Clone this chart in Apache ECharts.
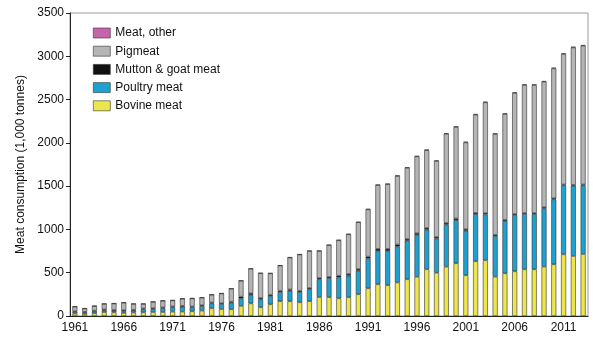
<!DOCTYPE html>
<html><head><meta charset="utf-8">
<script src="https://cdn.jsdelivr.net/npm/echarts@6/dist/echarts.min.js"></script>
<style>html,body{margin:0;padding:0;background:#fff}#c{width:593px;height:342px}</style>
</head><body><div id="c"></div>
<script>
const years = [];
for (let y = 1961; y <= 2013; y++) years.push(String(y));
const yTicks = [0, 500, 1000, 1500, 2000, 2500, 3000, 3500];

const bovine = [28,23,31,45,42,35,39,42,46,46,50,50,54,62,89,80,77,117,146,100,135,170,170,158,170,219,218,204,216,251,320,366,355,387,424,454,539,500,570,609,470,632,643,454,493,516,539,539,570,597,712,693,716];
const poultry = [18,20,23,19,16,23,23,35,35,43,50,58,46,53,57,59,77,87,97,93,96,107,122,119,138,205,219,243,250,272,346,385,396,417,446,482,458,395,487,498,515,544,531,470,604,651,639,639,674,751,797,812,793];
const mutton = [8,6,8,12,12,10,10,10,10,10,10,10,10,10,10,10,12,20,20,15,15,15,15,15,15,15,15,18,20,20,20,25,25,22,20,20,20,18,18,20,18,15,15,15,15,12,12,12,12,12,10,10,10];
const pigmeat = [54,37,53,64,74,86,68,53,73,77,70,82,93,87,90,111,150,183,283,286,246,290,368,418,428,312,367,410,458,540,545,736,747,792,822,887,899,878,1030,1057,1002,1134,1278,1163,1221,1397,1478,1478,1450,1500,1507,1587,1603];
const other = [2,2,2,2,2,2,2,2,2,2,2,2,2,2,2,2,2,3,3,3,3,3,3,3,3,3,3,3,3,3,5,5,5,5,5,5,5,5,5,5,8,8,8,8,8,8,8,8,8,8,8,8,8];

const font = '"Liberation Sans", Arial, sans-serif';
const border = {borderColor:'#333', borderWidth:0.6};
function s(name, data, color){
  return {name, type:'bar', stack:'t', data, barWidth:5,
    itemStyle:Object.assign({color}, border)};
}
const chart = echarts.init(document.getElementById('c'), null, {renderer:'canvas'});
chart.setOption({
  animation:false,
  grid:{left:70, right:5, top:13, bottom:26, show:true, borderColor:'#999', borderWidth:1},
  legend:{
    orient:'vertical', left:88, top:22, itemWidth:17, itemHeight:10, itemGap:6.2, icon:'rect',
    textStyle:{fontFamily:font, fontSize:12, color:'#111'},
    data:['Meat, other','Pigmeat','Mutton & goat meat','Poultry meat','Bovine meat'],
    itemStyle:{borderColor:'#333', borderWidth:0.6}
  },
  xAxis:{type:'category', data:years,
    axisLine:{lineStyle:{color:'#222', width:1}},
    axisTick:{interval:0, length:4, lineStyle:{color:'#222'}},
    axisLabel:{interval:4, fontFamily:font, fontSize:12, color:'#111', margin:6}
  },
  yAxis:{type:'value', min:0, max:yTicks[yTicks.length-1], interval:500,
    name:'Meat consumption (1,000 tonnes)', nameLocation:'middle', nameGap:41,
    nameTextStyle:{fontFamily:font, fontSize:12, color:'#111'},
    splitLine:{show:false},
    axisLine:{show:true, lineStyle:{color:'#222', width:1}},
    axisTick:{show:true, length:4, lineStyle:{color:'#222'}},
    axisLabel:{fontFamily:font, fontSize:12, color:'#111', margin:6, formatter:v => String(v)}
  },
  series:[
    s('Bovine meat', bovine, '#ece64c'),
    s('Poultry meat', poultry, '#1fa1cf'),
    s('Mutton & goat meat', mutton, '#111111'),
    s('Pigmeat', pigmeat, '#b5b5b5'),
    s('Meat, other', other, '#c663ad')
  ]
});
</script></body></html>
